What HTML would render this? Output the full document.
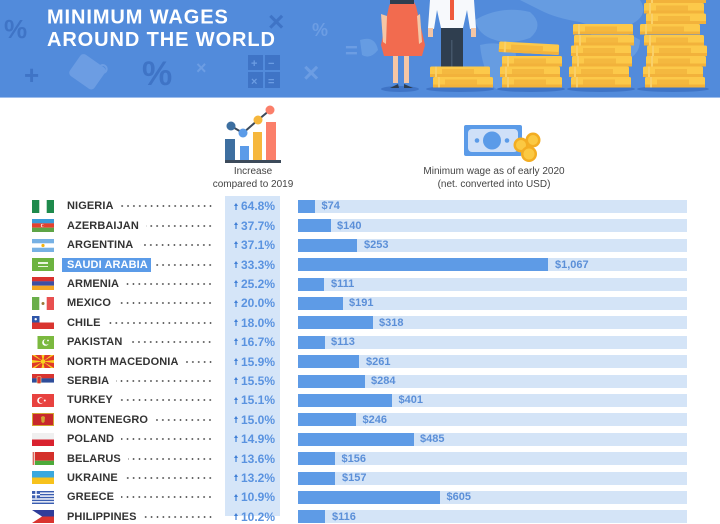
<!DOCTYPE html>
<html><head><meta charset="utf-8">
<style>
*{margin:0;padding:0;box-sizing:border-box}
html,body{width:720px;height:516px;overflow:hidden;background:#fff;font-family:"Liberation Sans",Arial,sans-serif}
#hdr{position:absolute;left:0;top:0;width:720px;height:98px}
.row{position:absolute;left:0;width:720px;height:14px}
.flag{position:absolute;left:32px;top:0.5px;width:22px;height:13px}
.nm{position:absolute;left:67px;width:146px;top:0;height:14px;display:flex;align-items:center}
.nm b{font-size:11px;font-weight:bold;color:#333;letter-spacing:0.1px;white-space:nowrap;line-height:14px}
.nm i{flex:1;height:2px;margin-left:7px;background-image:radial-gradient(circle,#555 0.75px,transparent 1.05px);background-size:5.9px 2px;background-position:right center;background-repeat:repeat-x}
.pct{position:absolute;left:226px;width:49px;top:0;height:14px;line-height:14px;text-align:right;font-size:12px;font-weight:bold;color:#5a93e0;white-space:nowrap}
.pct svg{display:inline-block;vertical-align:middle;margin-right:3px;margin-top:-2px}
.bg{position:absolute;left:298px;top:0.7px;width:389px;height:13px;background:#d4e4f7}
.fill{position:absolute;left:0;top:0;height:13px;background:#5e9be6}
.lab{position:absolute;top:0;height:14px;line-height:14px;font-size:11px;font-weight:bold;color:#5b8fd8;white-space:nowrap}
.hl{position:absolute;left:62px;top:258px;width:89px;height:14px;background:#5b9be8}
.sub{position:absolute;font-size:10px;color:#444;text-align:center;line-height:12.5px}
</style></head><body>

<svg id="hdr" width="720" height="98" viewBox="0 0 720 98">
<rect width="720" height="98" fill="#528bdb"/>
<rect y="97" width="720" height="1" fill="#9dbdec"/>
<!-- map light blobs -->
<g fill="#6a9fe3" opacity="0.85">
<path d="M475 20 Q500 5 530 12 Q545 25 530 38 Q510 45 495 40 Q478 35 475 20Z"/>
<path d="M520 0 L640 0 Q650 15 630 25 Q600 30 580 22 Q555 18 540 10Z"/>
<path d="M480 45 Q500 40 515 50 Q520 70 505 85 Q495 95 490 80 Q482 65 480 45Z"/>
<path d="M590 30 Q620 28 640 40 Q640 60 615 62 Q595 55 590 30Z"/>
<path d="M360 40 Q375 35 378 50 Q370 60 362 55Z"/>
</g>
<!-- background icons -->
<g font-family="Liberation Sans, Arial, sans-serif" font-weight="bold">
<text x="4" y="38" font-size="26" fill="#3f74c6">%</text>
<text x="268" y="31" font-size="28" fill="#3f74c6">×</text>
<text x="312" y="36" font-size="18" fill="#6c9de3">%</text>
<text x="345" y="58" font-size="22" fill="#6c9de3">=</text>
<text x="24" y="84" font-size="26" fill="#3f74c6">+</text>
<text x="142" y="85" font-size="34" fill="#3f74c6">%</text>
<text x="196" y="74" font-size="18" fill="#6c9de3">×</text>
<text x="303" y="82" font-size="28" fill="#6c9de3">×</text>
</g>
<!-- tag -->
<g transform="rotate(35 86 72)"><rect x="72" y="58" width="30" height="26" rx="4" fill="#6c9de3"/><circle cx="98" cy="60" r="4" fill="none" stroke="#6c9de3" stroke-width="2"/></g>
<!-- calculator -->
<g fill="#3f74c6"><rect x="248" y="55" width="15" height="15"/><rect x="265" y="55" width="15" height="15"/><rect x="248" y="72" width="15" height="16"/><rect x="265" y="72" width="15" height="16"/></g>
<g fill="#6c9de3" font-size="11" font-family="Liberation Sans,Arial,sans-serif" font-weight="bold"><text x="251" y="67">+</text><text x="268" y="67">−</text><text x="251" y="85">×</text><text x="268" y="85">=</text></g>
<!-- title -->
<text x="47" y="23.3" font-size="20" font-weight="bold" fill="#fff" letter-spacing="0.9" font-family="Liberation Sans, Arial, sans-serif">MINIMUM WAGES</text>
<text x="47" y="46" font-size="20" font-weight="bold" fill="#fff" letter-spacing="0.9" font-family="Liberation Sans, Arial, sans-serif">AROUND THE WORLD</text>
<!-- shadows -->
<g fill="#3f74c6"><ellipse cx="400" cy="89" rx="19" ry="3"/><ellipse cx="460" cy="89" rx="34" ry="3"/><ellipse cx="531" cy="89" rx="34" ry="3"/><ellipse cx="601" cy="89" rx="34" ry="3"/><ellipse cx="673" cy="89" rx="36" ry="3"/></g>
<!-- woman -->
<path d="M392 0 L413 0 L416 6 L425 45 L422 56 L384 56 L381 45 L389 6Z" fill="#f26b4f"/>
<path d="M381 14 L383 42 L386 44 L387 16Z" fill="#f5c6a5"/>
<path d="M420 14 L422 42 L419 44 L417 16Z" fill="#f5c6a5"/>
<rect x="393" y="56" width="5" height="27" fill="#f5c6a5"/><rect x="404" y="56" width="5" height="27" fill="#f5c6a5"/>
<path d="M390 88 L398 84 L399 88Z" fill="#2f3e4f"/><path d="M404 84 L413 88 L404 88Z" fill="#2f3e4f"/>
<rect x="390" y="0" width="24" height="4" fill="#2f3e4f"/>
<!-- man -->
<path d="M430 0 L474 0 L476 28 L470 29 L467 10 L463 28 L441 28 L437 10 L434 29 L428 28Z" fill="#f7f9fc"/>
<rect x="450" y="0" width="4" height="20" fill="#ef5a3c"/>
<rect x="441" y="28" width="22" height="39" fill="#2f3e4f"/>
<rect x="451" y="40" width="1.5" height="27" fill="#44566a"/>
<rect x="428" y="28" width="5" height="9" fill="#f5c6a5"/><rect x="471" y="28" width="5" height="9" fill="#f5c6a5"/>
<!-- coins -->
<defs>
<g id="coin"><rect x="0" y="0" width="60" height="10.5" rx="1.5" fill="#fcc94a"/><rect x="0" y="7.5" width="60" height="3" fill="#f2b23b"/><rect x="12" y="2.5" width="32" height="5" fill="#f4b83f"/><rect x="5" y="0" width="2" height="10.5" fill="#f9d06a"/></g>
</defs>
<use href="#coin" x="430" y="66.5"/><use href="#coin" x="433" y="77"/>
<use href="#coin" x="500" y="66.5"/><use href="#coin" x="502" y="77"/><use href="#coin" x="502" y="56"/>
<g transform="rotate(3 530 48)"><use href="#coin" x="499" y="43"/></g>
<use href="#coin" x="571" y="77"/><use href="#coin" x="569" y="66.5"/><use href="#coin" x="572" y="56"/><use href="#coin" x="571" y="45.5"/><use href="#coin" x="574" y="35"/><use href="#coin" x="573" y="24"/>
<use href="#coin" x="645" y="77"/><use href="#coin" x="643" y="66.5"/><use href="#coin" x="646" y="56"/><use href="#coin" x="647" y="45.5"/><use href="#coin" x="644" y="35"/><use href="#coin" x="640" y="24"/><use href="#coin" x="646" y="13.5"/><use href="#coin" x="644" y="3"/><use href="#coin" x="646" y="-7.5"/>
</svg>

<!-- chart icon -->
<svg style="position:absolute;left:222px;top:104px" width="62" height="62" viewBox="222 104 62 62">
<rect x="225" y="139" width="10" height="22" fill="#3d6fa0"/>
<rect x="240" y="146" width="9" height="15" fill="#5b9be8"/>
<rect x="253" y="132" width="9" height="29" fill="#f6b73c"/>
<rect x="266" y="122" width="10" height="39" fill="#fb7f6a"/>
<rect x="225" y="160" width="56" height="3" fill="#3c4a5a"/>
<polyline points="231,126 243,133 258,120 270,110" fill="none" stroke="#3c4a5a" stroke-width="2"/>
<circle cx="231" cy="126" r="4.5" fill="#3d6fa0"/><circle cx="243" cy="133" r="4.5" fill="#5b9be8"/><circle cx="258" cy="120" r="4.5" fill="#f6b73c"/><circle cx="270" cy="110" r="4.5" fill="#fb7f6a"/>
</svg>
<div class="sub" style="left:193px;top:166px;width:120px">Increase<br>compared to 2019</div>

<!-- money icon -->
<svg style="position:absolute;left:460px;top:120px" width="86" height="46" viewBox="460 120 86 46">
<rect x="464" y="125" width="58" height="31" rx="2" fill="#5b9be8"/>
<rect x="468" y="129" width="50" height="23" rx="4" fill="#cfe0f8"/>
<circle cx="492" cy="140.5" r="9" fill="#5b9be8"/>
<circle cx="477" cy="140.5" r="2.3" fill="#5b9be8"/><circle cx="507" cy="140.5" r="2.3" fill="#5b9be8"/>
<circle cx="533" cy="140" r="7.5" fill="#f3ad22"/><circle cx="533" cy="140" r="5" fill="#fbc943"/>
<circle cx="521" cy="145" r="7.5" fill="#f3ad22"/><circle cx="521" cy="145" r="5" fill="#fbc943"/>
<circle cx="529" cy="154" r="8" fill="#f3ad22"/><circle cx="529" cy="154" r="5.5" fill="#fbc943"/>
</svg>
<div class="sub" style="left:404px;top:166px;width:180px">Minimum wage as of early 2020<br>(net. converted into USD)</div>

<!-- percent column bg -->
<div style="position:absolute;left:225px;top:196px;width:55px;height:320px;background:#d5e5f8"></div>
<div class="hl"></div>

<!-- rows -->
<div class="row" style="top:199.3px">
<svg class="flag" viewBox="0 0 22 13"><rect width="22" height="13" fill="#fff"/><rect width="7.3" height="13" fill="#1e8a4c"/><rect x="14.7" width="7.3" height="13" fill="#1e8a4c"/></svg>
<div class="nm"><b>NIGERIA</b><i></i></div>
<div class="pct"><svg width="4" height="7" viewBox="0 0 4 7"><path d="M2 0 L4 3 L2.6 3 L2.6 7 L1.4 7 L1.4 3 L0 3Z" fill="#3f7fd6"/></svg>64.8%</div>
<div class="bg"><div class="fill" style="width:17.3px"></div></div>
<div class="lab" style="left:321.5px">$74</div>
</div>

<div class="row" style="top:218.7px">
<svg class="flag" viewBox="0 0 22 13"><rect width="22" height="4.4" fill="#3a9ad9"/><rect y="4.3" width="22" height="4.4" fill="#e4402f"/><rect y="8.7" width="22" height="4.3" fill="#5ea446"/><circle cx="10.5" cy="6.5" r="1.6" fill="#fff"/><circle cx="11" cy="6.5" r="1.3" fill="#e4402f"/></svg>
<div class="nm"><b>AZERBAIJAN</b><i></i></div>
<div class="pct"><svg width="4" height="7" viewBox="0 0 4 7"><path d="M2 0 L4 3 L2.6 3 L2.6 7 L1.4 7 L1.4 3 L0 3Z" fill="#3f7fd6"/></svg>37.7%</div>
<div class="bg"><div class="fill" style="width:32.8px"></div></div>
<div class="lab" style="left:337px">$140</div>
</div>

<div class="row" style="top:238.1px">
<svg class="flag" viewBox="0 0 22 13"><rect width="22" height="13" fill="#fff"/><rect width="22" height="4.3" fill="#77b1e4"/><rect y="8.7" width="22" height="4.3" fill="#77b1e4"/><circle cx="11" cy="6.5" r="1.6" fill="#f6b40e"/></svg>
<div class="nm"><b>ARGENTINA</b><i></i></div>
<div class="pct"><svg width="4" height="7" viewBox="0 0 4 7"><path d="M2 0 L4 3 L2.6 3 L2.6 7 L1.4 7 L1.4 3 L0 3Z" fill="#3f7fd6"/></svg>37.1%</div>
<div class="bg"><div class="fill" style="width:59.3px"></div></div>
<div class="lab" style="left:364px">$253</div>
</div>

<div class="row" style="top:257.5px">
<svg class="flag" viewBox="0 0 22 13"><rect width="22" height="13" fill="#6cb33f"/><rect x="6" y="4" width="10" height="2" fill="#e9f4dc"/><rect x="6" y="8" width="10" height="1" fill="#e9f4dc"/></svg>
<div class="nm"><b style="color:#fff">SAUDI ARABIA</b><i></i></div>
<div class="pct"><svg width="4" height="7" viewBox="0 0 4 7"><path d="M2 0 L4 3 L2.6 3 L2.6 7 L1.4 7 L1.4 3 L0 3Z" fill="#3f7fd6"/></svg>33.3%</div>
<div class="bg"><div class="fill" style="width:250px"></div></div>
<div class="lab" style="left:555px">$1,067</div>
</div>

<div class="row" style="top:276.9px">
<svg class="flag" viewBox="0 0 22 13"><rect width="22" height="4.4" fill="#d9322f"/><rect y="4.3" width="22" height="4.4" fill="#3f4fa3"/><rect y="8.7" width="22" height="4.3" fill="#f5a623"/></svg>
<div class="nm"><b>ARMENIA</b><i></i></div>
<div class="pct"><svg width="4" height="7" viewBox="0 0 4 7"><path d="M2 0 L4 3 L2.6 3 L2.6 7 L1.4 7 L1.4 3 L0 3Z" fill="#3f7fd6"/></svg>25.2%</div>
<div class="bg"><div class="fill" style="width:26px"></div></div>
<div class="lab" style="left:331px">$111</div>
</div>

<div class="row" style="top:296.3px">
<svg class="flag" viewBox="0 0 22 13"><rect width="22" height="13" fill="#fff"/><rect width="7.3" height="13" fill="#6aae4a"/><rect x="14.7" width="7.3" height="13" fill="#e85050"/><circle cx="11" cy="6.5" r="1.5" fill="#9a7a3a"/></svg>
<div class="nm"><b>MEXICO</b><i></i></div>
<div class="pct"><svg width="4" height="7" viewBox="0 0 4 7"><path d="M2 0 L4 3 L2.6 3 L2.6 7 L1.4 7 L1.4 3 L0 3Z" fill="#3f7fd6"/></svg>20.0%</div>
<div class="bg"><div class="fill" style="width:44.8px"></div></div>
<div class="lab" style="left:349px">$191</div>
</div>

<div class="row" style="top:315.7px">
<svg class="flag" viewBox="0 0 22 13"><rect width="22" height="6.5" fill="#fff"/><rect y="6.5" width="22" height="6.5" fill="#d9342f"/><rect width="7.5" height="6.5" fill="#2f56a8"/><circle cx="3.7" cy="3.2" r="1.2" fill="#fff"/></svg>
<div class="nm"><b>CHILE</b><i></i></div>
<div class="pct"><svg width="4" height="7" viewBox="0 0 4 7"><path d="M2 0 L4 3 L2.6 3 L2.6 7 L1.4 7 L1.4 3 L0 3Z" fill="#3f7fd6"/></svg>18.0%</div>
<div class="bg"><div class="fill" style="width:74.5px"></div></div>
<div class="lab" style="left:379px">$318</div>
</div>

<div class="row" style="top:335.1px">
<svg class="flag" viewBox="0 0 22 13"><rect width="22" height="13" fill="#fff"/><rect x="5.5" width="16.5" height="13" fill="#7bb93f"/><circle cx="13.5" cy="6.5" r="3.3" fill="#fff"/><circle cx="14.6" cy="5.8" r="2.8" fill="#7bb93f"/><circle cx="16" cy="4.5" r="0.9" fill="#fff"/></svg>
<div class="nm"><b>PAKISTAN</b><i></i></div>
<div class="pct"><svg width="4" height="7" viewBox="0 0 4 7"><path d="M2 0 L4 3 L2.6 3 L2.6 7 L1.4 7 L1.4 3 L0 3Z" fill="#3f7fd6"/></svg>16.7%</div>
<div class="bg"><div class="fill" style="width:26.5px"></div></div>
<div class="lab" style="left:331px">$113</div>
</div>

<div class="row" style="top:354.5px">
<svg class="flag" viewBox="0 0 22 13"><rect width="22" height="13" fill="#e03a2a"/><g fill="#f8d21f"><path d="M11 6.5 L0 0 L3 0Z"/><path d="M11 6.5 L22 0 L19 0Z"/><path d="M11 6.5 L0 13 L3 13Z"/><path d="M11 6.5 L22 13 L19 13Z"/><path d="M11 6.5 L9.5 0 L12.5 0Z"/><path d="M11 6.5 L9.5 13 L12.5 13Z"/><path d="M11 6.5 L0 5 L0 8Z"/><path d="M11 6.5 L22 5 L22 8Z"/><circle cx="11" cy="6.5" r="2.3"/></g></svg>
<div class="nm"><b>NORTH MACEDONIA</b><i></i></div>
<div class="pct"><svg width="4" height="7" viewBox="0 0 4 7"><path d="M2 0 L4 3 L2.6 3 L2.6 7 L1.4 7 L1.4 3 L0 3Z" fill="#3f7fd6"/></svg>15.9%</div>
<div class="bg"><div class="fill" style="width:61.2px"></div></div>
<div class="lab" style="left:366px">$261</div>
</div>

<div class="row" style="top:373.9px">
<svg class="flag" viewBox="0 0 22 13"><rect width="22" height="4.4" fill="#d9342f"/><rect y="4.3" width="22" height="4.4" fill="#2f4d9a"/><rect y="8.7" width="22" height="4.3" fill="#fff"/><rect x="5" y="2.5" width="4" height="7" rx="1" fill="#d9342f" stroke="#f3e1a0" stroke-width="0.6"/></svg>
<div class="nm"><b>SERBIA</b><i></i></div>
<div class="pct"><svg width="4" height="7" viewBox="0 0 4 7"><path d="M2 0 L4 3 L2.6 3 L2.6 7 L1.4 7 L1.4 3 L0 3Z" fill="#3f7fd6"/></svg>15.5%</div>
<div class="bg"><div class="fill" style="width:66.5px"></div></div>
<div class="lab" style="left:371px">$284</div>
</div>

<div class="row" style="top:393.3px">
<svg class="flag" viewBox="0 0 22 13"><rect width="22" height="13" fill="#e8423f"/><circle cx="8.5" cy="6.5" r="3.3" fill="#fff"/><circle cx="9.4" cy="6.5" r="2.6" fill="#e8423f"/><circle cx="12.8" cy="6.5" r="1" fill="#fff"/></svg>
<div class="nm"><b>TURKEY</b><i></i></div>
<div class="pct"><svg width="4" height="7" viewBox="0 0 4 7"><path d="M2 0 L4 3 L2.6 3 L2.6 7 L1.4 7 L1.4 3 L0 3Z" fill="#3f7fd6"/></svg>15.1%</div>
<div class="bg"><div class="fill" style="width:94px"></div></div>
<div class="lab" style="left:398.5px">$401</div>
</div>

<div class="row" style="top:412.7px">
<svg class="flag" viewBox="0 0 22 13"><rect width="22" height="13" fill="#d3a433"/><rect x="1" y="1" width="20" height="11" fill="#c8282b"/><path d="M9 4 L11 3 L13 4 L12.5 9 L11 10 L9.5 9Z" fill="#d3a433"/></svg>
<div class="nm"><b>MONTENEGRO</b><i></i></div>
<div class="pct"><svg width="4" height="7" viewBox="0 0 4 7"><path d="M2 0 L4 3 L2.6 3 L2.6 7 L1.4 7 L1.4 3 L0 3Z" fill="#3f7fd6"/></svg>15.0%</div>
<div class="bg"><div class="fill" style="width:58px"></div></div>
<div class="lab" style="left:362.5px">$246</div>
</div>

<div class="row" style="top:432.1px">
<svg class="flag" viewBox="0 0 22 13"><rect width="22" height="6.5" fill="#f0f0f0"/><rect y="6.5" width="22" height="6.5" fill="#d9222f"/></svg>
<div class="nm"><b>POLAND</b><i></i></div>
<div class="pct"><svg width="4" height="7" viewBox="0 0 4 7"><path d="M2 0 L4 3 L2.6 3 L2.6 7 L1.4 7 L1.4 3 L0 3Z" fill="#3f7fd6"/></svg>14.9%</div>
<div class="bg"><div class="fill" style="width:115.5px"></div></div>
<div class="lab" style="left:420px">$485</div>
</div>

<div class="row" style="top:451.5px">
<svg class="flag" viewBox="0 0 22 13"><rect width="22" height="8.7" fill="#d4302a"/><rect y="8.7" width="22" height="4.3" fill="#4caa3a"/><rect width="3" height="13" fill="#f3e3dc"/><rect x="0.8" width="1.4" height="13" fill="#d4302a" opacity="0.7"/></svg>
<div class="nm"><b>BELARUS</b><i></i></div>
<div class="pct"><svg width="4" height="7" viewBox="0 0 4 7"><path d="M2 0 L4 3 L2.6 3 L2.6 7 L1.4 7 L1.4 3 L0 3Z" fill="#3f7fd6"/></svg>13.6%</div>
<div class="bg"><div class="fill" style="width:36.8px"></div></div>
<div class="lab" style="left:341.5px">$156</div>
</div>

<div class="row" style="top:470.9px">
<svg class="flag" viewBox="0 0 22 13"><rect width="22" height="6.5" fill="#3aa8de"/><rect y="6.5" width="22" height="6.5" fill="#f7c21c"/></svg>
<div class="nm"><b>UKRAINE</b><i></i></div>
<div class="pct"><svg width="4" height="7" viewBox="0 0 4 7"><path d="M2 0 L4 3 L2.6 3 L2.6 7 L1.4 7 L1.4 3 L0 3Z" fill="#3f7fd6"/></svg>13.2%</div>
<div class="bg"><div class="fill" style="width:37px"></div></div>
<div class="lab" style="left:342px">$157</div>
</div>

<div class="row" style="top:490.3px">
<svg class="flag" viewBox="0 0 22 13"><rect width="22" height="13" fill="#fff"/><g fill="#3a5db0"><rect width="22" height="1.45"/><rect y="2.9" width="22" height="1.45"/><rect y="5.8" width="22" height="1.45"/><rect y="8.7" width="22" height="1.45"/><rect y="11.55" width="22" height="1.45"/><rect width="8" height="7.2"/></g><rect x="3.3" width="1.4" height="7.2" fill="#fff"/><rect y="2.9" width="8" height="1.4" fill="#fff"/></svg>
<div class="nm"><b>GREECE</b><i></i></div>
<div class="pct"><svg width="4" height="7" viewBox="0 0 4 7"><path d="M2 0 L4 3 L2.6 3 L2.6 7 L1.4 7 L1.4 3 L0 3Z" fill="#3f7fd6"/></svg>10.9%</div>
<div class="bg"><div class="fill" style="width:142px"></div></div>
<div class="lab" style="left:446.5px">$605</div>
</div>

<div class="row" style="top:509.7px">
<svg class="flag" viewBox="0 0 22 13"><rect width="22" height="6.5" fill="#2f3d9a"/><rect y="6.5" width="22" height="6.5" fill="#d9342f"/><path d="M0 0 L10 6.5 L0 13Z" fill="#fff"/></svg>
<div class="nm"><b>PHILIPPINES</b><i></i></div>
<div class="pct"><svg width="4" height="7" viewBox="0 0 4 7"><path d="M2 0 L4 3 L2.6 3 L2.6 7 L1.4 7 L1.4 3 L0 3Z" fill="#3f7fd6"/></svg>10.2%</div>
<div class="bg"><div class="fill" style="width:27.2px"></div></div>
<div class="lab" style="left:332px">$116</div>
</div>

</body></html>
